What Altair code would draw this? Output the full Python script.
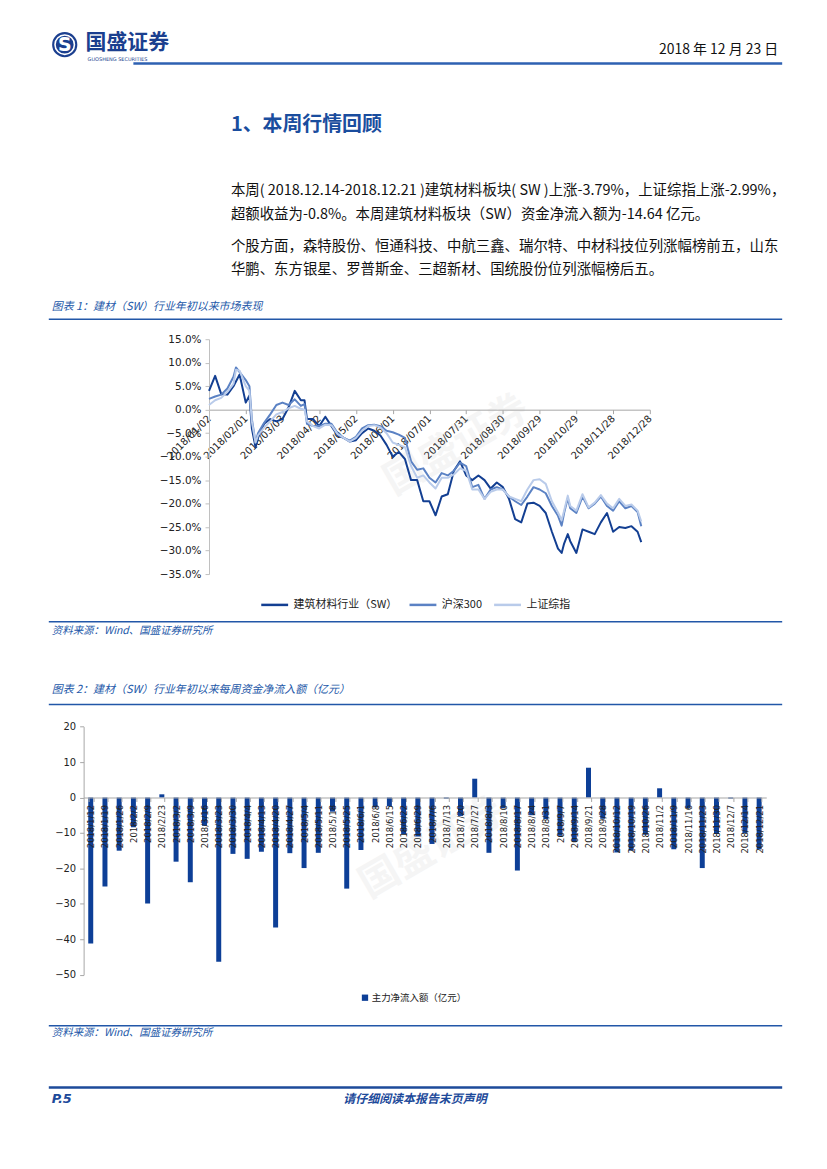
import altair as alt
import pandas as pd

CJK = "Noto Sans CJK SC"
NUM = "DejaVu Sans"
W, H = 811, 1153

# ---------------- chart 1: line data (percent) ----------------
line_dates = [
    "2018-01-02", "2018-01-07", "2018-01-12", "2018-01-17", "2018-01-22", "2018-01-24", "2018-01-27",
    "2018-02-01", "2018-02-04", "2018-02-06", "2018-02-09", "2018-02-11", "2018-02-16", "2018-02-21",
    "2018-02-26", "2018-03-03", "2018-03-08", "2018-03-13", "2018-03-18", "2018-03-21",
    "2018-03-23", "2018-03-28", "2018-04-02", "2018-04-07", "2018-04-12", "2018-04-17", "2018-04-22",
    "2018-04-27", "2018-05-02", "2018-05-07", "2018-05-12", "2018-05-17", "2018-05-22", "2018-05-27",
    "2018-06-01", "2018-06-06", "2018-06-11", "2018-06-16", "2018-06-21", "2018-06-26", "2018-07-01",
    "2018-07-06", "2018-07-11", "2018-07-16", "2018-07-21", "2018-07-26", "2018-07-31", "2018-08-05",
    "2018-08-10", "2018-08-15", "2018-08-20", "2018-08-25", "2018-08-30", "2018-09-04", "2018-09-09",
    "2018-09-14", "2018-09-19", "2018-09-24", "2018-09-29", "2018-10-04", "2018-10-09", "2018-10-14",
    "2018-10-17", "2018-10-19", "2018-10-22", "2018-10-24", "2018-10-29", "2018-11-03", "2018-11-08",
    "2018-11-13", "2018-11-18", "2018-11-23", "2018-11-28", "2018-12-03", "2018-12-08", "2018-12-13",
    "2018-12-18", "2018-12-21",
]
sw_values = [
    4.0, 7.2, 3.3, 3.2, 5.0, 6.0, 7.5, 1.5, 3.0, -4.0, -8.0, -6.0, -3.0, -2.0, -2.5, -2.0, 0.5, 4.0, 2.0, 2.0,
    -2.0, -2.0, -3.5, -1.5, -3.5, -5.5, -6.0, -6.8, -6.5, -5.0, -4.0, -4.5, -5.5, -7.5, -10.0, -9.0, -10.5,
    -15.0, -15.0, -19.5, -19.5, -22.5, -18.5, -18.0, -13.0, -11.0, -14.0, -15.0, -14.0, -15.0, -16.8, -15.5,
    -16.5, -19.0, -23.3, -24.0, -20.0, -19.8, -20.5, -22.0, -26.0, -29.6,
    -30.5, -28.5, -26.5, -28.0, -30.5, -25.5, -26.0, -26.5, -24.0, -22.0, -26.0, -25.0, -25.2, -24.8, -26.0, -28.2,
]
hs300_values = [
    2.3, 2.8, 3.2, 4.5, 7.0, 9.0, 8.0, 6.3, 5.0, -2.0, -7.0, -5.0, -2.8, -1.0, 1.0, 1.5, 1.0, 2.2, 0.8, 1.2,
    -3.0, -3.5, -3.5, -3.0, -3.0, -5.0, -6.0, -6.6, -5.8, -4.0, -3.3, -3.2, -3.5, -4.5, -4.8, -5.3, -6.0,
    -11.0, -12.8, -12.5, -14.5, -15.5, -13.5, -14.0, -13.0, -11.3, -12.0, -16.5, -16.0, -19.0, -17.0, -16.5,
    -17.0, -18.5, -19.5, -20.3, -18.5, -16.5, -17.0, -17.8, -20.5, -22.6,
    -24.7, -22.0, -18.8, -21.0, -22.0, -18.5, -21.0, -20.0, -18.5, -20.5, -21.5, -19.5, -21.0, -20.5, -21.8, -24.8,
]
szzs_values = [
    1.0, 2.0, 2.5, 3.8, 5.5, 8.5, 8.3, 5.0, 4.0, -2.5, -7.0, -5.5, -3.8, -2.5, -1.0, -0.5, 0.3, 0.8, 0.2, 0.0,
    -2.5, -3.5, -4.0, -3.2, -3.3, -5.2, -6.0, -6.8, -6.0, -4.5, -3.5, -3.3, -3.8, -5.0, -7.0, -7.5, -8.0,
    -12.0, -14.5, -14.0, -15.5, -16.8, -14.5, -14.5, -13.8, -12.5, -13.0, -17.0, -17.0, -19.0, -17.5, -17.0,
    -17.0, -18.5, -19.0, -19.5, -17.0, -15.0, -14.8, -15.8, -19.5, -21.9,
    -23.5, -21.5, -18.3, -20.5, -21.5, -18.0, -20.8, -19.8, -18.2, -20.0, -21.0, -19.0, -20.5, -20.2, -21.5, -23.8,
]
series_names = ["建筑材料行业（SW）", "沪深300", "上证综指"]
series_colors = ["#133F92", "#5B82C4", "#B9CBEA"]
xtick_days = [(1, 2), (2, 1), (3, 3), (4, 2), (5, 2), (6, 1), (7, 1), (7, 31), (8, 30), (9, 29),
              (10, 29), (11, 28), (12, 28)]
ytick_pct = [15, 10, 5, 0, -5, -10, -15, -20, -25, -30, -35]

# ---------------- chart 2: weekly net inflow ----------------
week_labels = [
    "2018/1/12", "2018/1/19", "2018/1/26", "2018/2/2", "2018/2/9", "2018/2/23", "2018/3/2", "2018/3/9",
    "2018/3/16", "2018/3/23", "2018/3/30", "2018/4/4", "2018/4/13", "2018/4/20", "2018/4/27", "2018/5/4",
    "2018/5/11", "2018/5/18", "2018/5/25", "2018/6/1", "2018/6/8", "2018/6/15", "2018/6/22", "2018/6/29",
    "2018/7/6", "2018/7/13", "2018/7/20", "2018/7/27", "2018/8/3", "2018/8/10", "2018/8/17", "2018/8/24",
    "2018/8/31", "2018/9/7", "2018/9/14", "2018/9/21", "2018/9/28", "2018/10/12", "2018/10/19",
    "2018/10/26", "2018/11/2", "2018/11/9", "2018/11/16", "2018/11/23", "2018/11/30", "2018/12/7",
    "2018/12/14", "2018/12/21",
]
flow_values = [
    -41.2, -25.1, -15.0, -8.4, -29.9, 0.9, -18.1, -23.9, -8.0, -46.3, -15.9, -17.3, -15.3, -36.7, -15.7,
    -19.9, -15.6, -4.0, -25.7, -14.8, -2.8, -2.5, -10.3, -11.0, -13.1, -0.3, -5.2, 5.3, -15.6, -3.0, -20.6,
    -5.0, -6.1, -10.8, -12.5, 8.4, -6.0, -15.5, -15.0, -10.5, 2.6, -14.6, -3.0, -19.9, -10.3, -0.3, -10.0,
    -14.64,
]
bar_name = "主力净流入额（亿元）"
bar_color = "#0D3F97"
flow_ticks = [20, 10, 0, -10, -20, -30, -40, -50]

# ---------------- page text ----------------
para_lines = [
    "本周( 2018.12.14-2018.12.21 )建筑材料板块( SW )上涨-3.79%，上证综指上涨-2.99%，",
    "超额收益为-0.8%。本周建筑材料板块（SW）资金净流入额为-14.64 亿元。",
    "个股方面，森特股份、恒通科技、中航三鑫、瑞尔特、中材科技位列涨幅榜前五，山东",
    "华鹏、东方银星、罗普斯金、三超新材、国统股份位列涨幅榜后五。",
]

BLUE = "#2257A8"
NAVY = "#1B3F8F"


def P(v):
    return v - 8  # page pixel -> chart pixel


def dt(m, d):
    return alt.DateTime(year=2018, month=m, date=d, utc=True)


def text_layer(s, x, y, size, color="#111111", weight="normal", style="normal",
               align="left", font=CJK, angle=0, opacity=1.0):
    return alt.Chart(pd.DataFrame({"t": [s]})).mark_text(
        align=align, baseline="middle", fontSize=size, color=color, fontWeight=weight,
        fontStyle=style, font=font, angle=angle, opacity=opacity,
    ).encode(text="t:N", x=alt.value(P(x)), y=alt.value(P(y)))


def hrule(x1, x2, y, color=BLUE, width=1.5):
    return alt.Chart(pd.DataFrame({"a": [0]})).mark_rule(color=color, strokeWidth=width).encode(
        x=alt.value(P(x1)), x2=alt.value(P(x2)), y=alt.value(P(y)))


# ---------------- build line chart ----------------
rows = []
for name, vals in zip(series_names, [sw_values, hs300_values, szzs_values]):
    for d, v in zip(line_dates, vals):
        rows.append({"date": d, "value": v / 100.0, "series": name})
line_df = pd.DataFrame(rows)

ly_top, ly_bot = P(338), P(574)          # 15% and -35%
lx_left, lx_right = P(206), P(649)
ly_zero = ly_bot - (ly_bot - ly_top) * 35 / 50

line_chart = alt.Chart(line_df).mark_line(strokeWidth=2, strokeJoin="round").encode(
    x=alt.X("date:T",
            scale=alt.Scale(type="utc", domain=[dt(1, 2), dt(12, 28)], range=[lx_left, lx_right], nice=False),
            axis=alt.Axis(orient="bottom", offset=ly_zero - H, values=[dt(m, d) for m, d in xtick_days],
                          labelExpr="utcFormat(datum.value, '%Y/%m/%d')", labelAngle=315, labelAlign="right",
                          labelBaseline="middle", labelFontSize=10, labelFont=NUM, labelColor="#222222",
                          labelOverlap=False, labelFlush=False, labelPadding=3, tickSize=4,
                          tickColor="#a6a6a6", domainColor="#a6a6a6", grid=False, title=None)),
    y=alt.Y("value:Q",
            scale=alt.Scale(domain=[-0.35, 0.15], range=[ly_bot, ly_top], nice=False),
            axis=alt.Axis(orient="left", offset=-lx_left, values=[v / 100.0 for v in ytick_pct],
                          format=".1%", labelFontSize=10.5, labelFont=NUM, labelColor="#222222",
                          tickSize=4, tickColor="#bfbfbf", domainColor="#bfbfbf", grid=False,
                          labelPadding=4, title=None)),
    color=alt.Color("series:N", sort=series_names,
                    scale=alt.Scale(domain=series_names, range=series_colors),
                    legend=alt.Legend(title=None, orient="none", legendX=P(257), legendY=P(590),
                                      direction="horizontal", symbolType="stroke", symbolStrokeWidth=2.5,
                                      symbolSize=729, labelFontSize=11, labelFont=CJK,
                                      labelColor="#222222", columnPadding=6, labelOffset=4)),
)

# ---------------- build bar chart ----------------
bar_df = pd.DataFrame({"week": week_labels, "flow": flow_values, "name": [bar_name] * len(week_labels)})
by_top, by_bot = P(727.3), P(976.7)      # 20 and -50
bx_left, bx_right = P(80), P(766)
by_zero = by_bot - (by_bot - by_top) * 50 / 70

bar_chart = alt.Chart(bar_df).mark_bar().encode(
    x=alt.X("week:N", sort=week_labels,
            scale=alt.Scale(range=[bx_left, bx_right], paddingInner=0.65, paddingOuter=0.325),
            axis=alt.Axis(orient="bottom", offset=by_zero - H, labelAngle=270, labelFontSize=8.5,
                          labelFont=NUM, labelColor="#222222", tickBand="extent", labelOverlap=False,
                          labelPadding=3, tickSize=4, tickColor="#a6a6a6", domainColor="#a6a6a6",
                          grid=False, title=None, zindex=1)),
    y=alt.Y("flow:Q",
            scale=alt.Scale(domain=[-50, 20], range=[by_bot, by_top], nice=False),
            axis=alt.Axis(orient="left", offset=-bx_left, values=flow_ticks, labelFontSize=10,
                          labelFont=NUM, labelColor="#222222", tickSize=4, tickColor="#a6a6a6",
                          domainColor="#a6a6a6", grid=False, labelPadding=4, title=None)),
    color=alt.Color("name:N", scale=alt.Scale(domain=[bar_name], range=[bar_color]),
                    legend=alt.Legend(title=None, orient="none", legendX=P(358), legendY=P(995),
                                      symbolType="square", symbolSize=40, labelFontSize=9.5,
                                      labelFont=CJK, labelColor="#222222", labelOffset=2)),
)

# ---------------- page decorations ----------------
one = pd.DataFrame({"a": [0]})
logo_disc = alt.Chart(one).mark_circle(size=640, color=NAVY, opacity=1).encode(
    x=alt.value(P(61)), y=alt.value(P(42)))
logo_ring = alt.Chart(one).mark_point(shape="circle", size=380, filled=False, stroke="white",
                                       strokeWidth=1.6, opacity=1).encode(
    x=alt.value(P(61)), y=alt.value(P(42)))

layers = [
    text_layer("国盛证券", 455, 445, 40, color="#b0b0b0", weight="bold", align="center", angle=330,
               opacity=0.12),
    text_layer("国盛证券", 430, 850, 40, color="#b0b0b0", weight="bold", align="center", angle=330,
               opacity=0.12),
    logo_disc, logo_ring,
    text_layer("S", 61, 42, 19, color="white", weight="bold", align="center", font=NUM),
    text_layer("国盛证券", 82, 40, 21, color=NAVY, weight="bold"),
    text_layer("GUOSHENG SECURITIES", 84, 56, 5, color=NAVY, font=NUM),
    text_layer("2018 年 12 月 23 日", 778, 47, 14, color="#111111", align="right"),
    hrule(130, 782, 61, color="#2E61B2", width=2.5),
    text_layer("1、本周行情回顾", 228, 123, 20, color="#1A4D9E", weight="bold"),
    text_layer(para_lines[0], 228, 189, 14.5),
    text_layer(para_lines[1], 228, 213, 14.5),
    text_layer(para_lines[2], 228, 245, 14.5),
    text_layer(para_lines[3], 228, 268, 14.5),
    text_layer("图表 1：建材（SW）行业年初以来市场表现", 48, 306, 11, color=BLUE, style="italic"),
    hrule(45, 782, 318),
    hrule(45, 782, 622),
    text_layer("资料来源：Wind、国盛证券研究所", 48, 631, 10.5, color=BLUE, style="italic"),
    text_layer("图表 2：建材（SW）行业年初以来每周资金净流入额（亿元）", 48, 691, 11, color=BLUE, style="italic"),
    hrule(45, 782, 705),
    hrule(45, 782, 1028),
    text_layer("资料来源：Wind、国盛证券研究所", 48, 1035, 10.5, color=BLUE, style="italic"),
    hrule(45, 782, 1090, color="#1D4A9A", width=2.5),
    text_layer("P.5", 48, 1102, 13, color="#1D4A9A", weight="bold", style="italic", font=NUM),
    text_layer("请仔细阅读本报告末页声明", 413, 1102, 12, color="#1D4A9A", weight="bold", style="italic",
               align="center"),
    line_chart,
    bar_chart,
]

chart = alt.layer(*layers).resolve_scale(
    x="independent", y="independent", color="independent"
).resolve_axis(x="independent", y="independent").resolve_legend(color="independent").properties(
    width=W, height=H, padding=0, background="white"
).configure_view(strokeWidth=0)

chart.save("out.html", embed_options={"renderer": "svg", "actions": False})
